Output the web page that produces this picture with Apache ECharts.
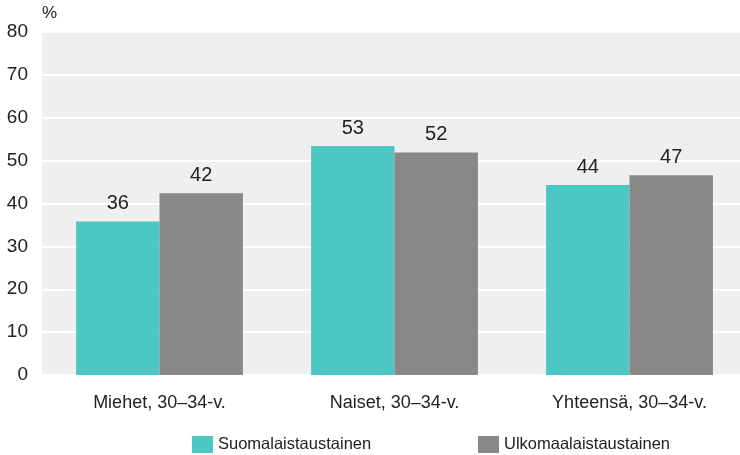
<!DOCTYPE html>
<html>
<head>
<meta charset="utf-8">
<script src="https://cdn.jsdelivr.net/npm/echarts@6/dist/echarts.min.js"></script>
<style>
  html, body { margin: 0; padding: 0; background: #fff; overflow: hidden; }
  /* kaavion tausta jatkuu hieman oikean reunan yli */
  #chart { width: 747px; height: 455px; }
</style>
</head>
<body>
<div id="chart"></div>
<script>
const categories = ['Miehet, 30–34-v.', 'Naiset, 30–34-v.', 'Yhteensä, 30–34-v.']
const seriesNames = ['Suomalaistaustainen', 'Ulkomaalaistaustainen']
const finnish = [35.8, 53.4, 44.3]
const foreign = [42.4, 51.9, 46.6]
const yTicks = [0, 10, 20, 30, 40, 50, 60, 70, 80]

const font = '"Liberation Sans", Arial, sans-serif'
const colors = ['#4dc7c4', '#888888']

const chart = echarts.init(document.getElementById('chart'))

// pylväiden arvot pyöristettynä kokonaisluvuiksi
const label = {
  show: true,
  position: 'top',
  distance: 8,
  color: '#222',
  fontFamily: font,
  fontSize: 20,
  formatter: p => Math.round(p.value)
}

const legendBase = {
  top: 431,
  icon: 'rect',
  itemWidth: 21,
  itemHeight: 17,
  itemGap: 0,
  textStyle: { fontFamily: font, fontSize: 16.5, color: '#222' }
}

chart.setOption({
  animation: false,
  textStyle: { fontFamily: font },
  grid: {
    left: 42,
    right: 0,
    top: 32,
    bottom: 80,
    show: true,
    backgroundColor: '#efefef',
    borderWidth: 0
  },
  legend: [
    Object.assign({ data: [seriesNames[0]], left: 187 }, legendBase),
    Object.assign({ data: [seriesNames[1]], left: 473 }, legendBase)
  ],
  xAxis: {
    type: 'category',
    data: categories,
    axisLine: { show: false },
    axisTick: { show: false },
    axisLabel: { color: '#222', fontSize: 18, margin: 19, fontFamily: font }
  },
  yAxis: {
    type: 'value',
    min: yTicks[0],
    max: yTicks[yTicks.length - 1],
    interval: 10,
    name: '%',
    nameLocation: 'end',
    nameGap: 10,
    nameTextStyle: { color: '#222', fontSize: 17, align: 'left', fontFamily: font },
    axisLine: { show: false },
    axisTick: { show: false },
    axisLabel: { color: '#222', fontSize: 19, margin: 14, fontFamily: font },
    splitLine: { lineStyle: { color: '#ffffff', width: 2 } }
  },
  series: [
    {
      name: seriesNames[0],
      type: 'bar',
      data: finnish,
      barGap: '0%',
      barCategoryGap: '29%',
      itemStyle: { color: colors[0] },
      label
    },
    {
      name: seriesNames[1],
      type: 'bar',
      data: foreign,
      itemStyle: { color: colors[1] },
      label
    }
  ]
})
</script>
</body>
</html>
